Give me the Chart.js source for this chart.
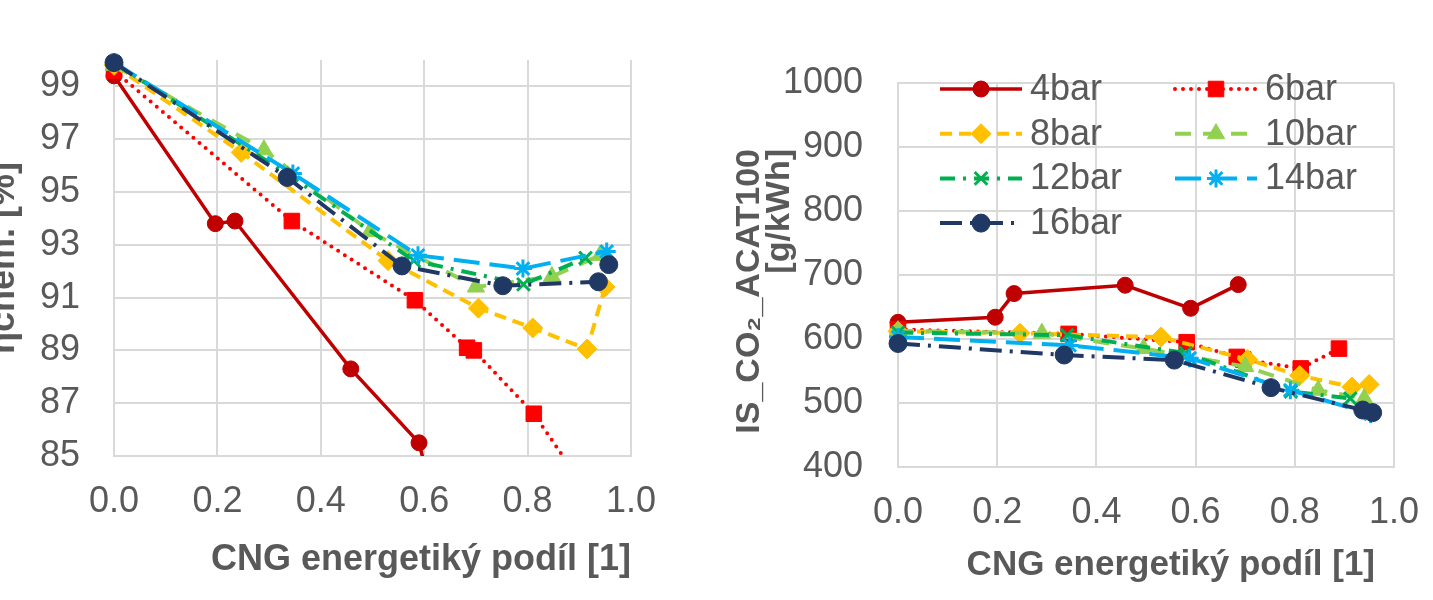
<!DOCTYPE html>
<html>
<head>
<meta charset="utf-8">
<script src="https://cdn.jsdelivr.net/npm/chart.js@4.4.1/dist/chart.umd.min.js"></script>
<style>
  body { margin: 0; background: #fff; overflow: hidden; width: 1433px; height: 600px; position: relative; }
  #effWrap { position: absolute; left: -20px; top: 0; width: 720px; height: 600px; }
  #co2Wrap { position: absolute; left: 700px; top: 0; width: 733px; height: 600px; }
</style>
</head>
<body>
<div id="effWrap"><canvas id="effChart" width="720" height="600"></canvas></div>
<div id="co2Wrap"><canvas id="co2Chart" width="733" height="600"></canvas></div>
<script>
// Series names (boost pressure)
const seriesNames = ["4bar", "6bar", "8bar", "10bar", "12bar", "14bar", "16bar"];

// CNG energy share per series (x values, shared by both charts)
const cng4 = [0, 0.196, 0.234, 0.458, 0.59, 0.686];
const cng6 = [0, 0.344, 0.582, 0.683, 0.696, 0.812, 0.889];
const cng8 = [0, 0.246, 0.53, 0.705, 0.81, 0.915, 0.95];
const cng10 = [0, 0.29, 0.495, 0.7, 0.847, 0.94];
const cng12 = [0, 0.341, 0.58, 0.792, 0.912];
const cng14 = [0, 0.346, 0.588, 0.791, 0.953];
const cng16 = [0, 0.335, 0.557, 0.752, 0.937, 0.957];

// Chemical efficiency [%] (left chart)
const eta4 = [99.4, 93.8, 93.9, 88.3, 85.5, 78];
const eta6 = [99.6, 93.9, 90.9, 89.1, 89.0, 86.6, 84.4];
const eta8 = [99.8, 96.5, 92.4, 90.6, 89.85, 89.05, 91.4];
const eta10 = [99.8, 96.6, 93.5, 91.4, 91.8, 92.6];
const eta12 = [99.9, 95.6, 92.4, 91.5, 92.5];
const eta14 = [99.9, 95.7, 92.6, 92.1, 92.75];
const eta16 = [99.9, 95.55, 92.2, 91.45, 91.6, 92.25];

// IS_CO2_ACAT100 [g/kWh] (right chart)
const co2_4 = [626, 634, 671, 684, 648, 685];
const co2_6 = [615, 608, 595, 572, 568, 554, 585];
const co2_8 = [612, 609, 603, 568, 543, 525, 529];
const co2_10 = [613, 609, 585, 557, 520, 507];
const co2_12 = [610, 606, 578, 518, 507];
const co2_14 = [603, 590, 570, 520, 483];
const co2_16 = [593, 575, 567, 524, 489, 485];

const cngShares = [cng4, cng6, cng8, cng10, cng12, cng14, cng16];
const etaValues = [eta4, eta6, eta8, eta10, eta12, eta14, eta16];
const co2Values = [co2_4, co2_6, co2_8, co2_10, co2_12, co2_14, co2_16];

// Line / marker look of each series
const seriesStyles = [
  { color: "#C00000", dash: [], width: 3.5, cap: "butt", point: "circle", radius: 8, pw: 1 },
  { color: "#FF0000", dash: [0, 8], width: 4, cap: "round", point: "rect", radius: 11, pw: 1 },
  { color: "#FFC000", dash: [12, 7], width: 4, cap: "butt", point: "rectRot", radius: 10, pw: 1 },
  { color: "#92D050", dash: [16, 12], width: 4, cap: "butt", point: "triangle", radius: 10, pw: 1 },
  { color: "#00B050", dash: [15, 8, 3, 8], width: 4, cap: "butt", point: "crossRot", radius: 9, pw: 3 },
  { color: "#00B0F0", dash: [26, 10], width: 4, cap: "butt", point: "star", radius: 9, pw: 3 },
  { color: "#1F3864", dash: [22, 8, 3, 8], width: 4, cap: "butt", point: "circle", radius: 9, pw: 1 },
];

const textColor = "#595959";
const gridColor = "#d9d9d9";
Chart.defaults.font.family = "'Liberation Sans', Arial, sans-serif";
Chart.defaults.color = textColor;

function makeDatasets(yValues, clip) {
  return seriesNames.map((name, i) => {
    const st = seriesStyles[i];
    return {
      label: name,
      data: cngShares[i].map((x, j) => ({ x: x, y: yValues[i][j] })),
      showLine: true,
      clip: clip,
      borderColor: st.color,
      backgroundColor: st.color,
      borderWidth: st.width,
      borderDash: st.dash,
      borderCapStyle: st.cap,
      pointStyle: st.point,
      pointRadius: st.radius,
      pointHoverRadius: st.radius,
      pointBackgroundColor: st.color,
      pointBorderColor: st.color,
      pointBorderWidth: st.pw,
      order: seriesNames.length - i,
    };
  });
}

// Legend in two columns inside the plot (right chart)
const gridLegend = {
  id: "gridLegend",
  afterDraw(chart, args, opts) {
    if (!opts.show) return;
    const { ctx, chartArea } = chart;
    ctx.save();
    chart.data.datasets.forEach((ds, i) => {
      const col = i % 2;
      const row = Math.floor(i / 2);
      const x0 = chartArea.left + opts.left + col * opts.colWidth;
      const y = chartArea.top + opts.top + row * opts.rowHeight;
      ctx.strokeStyle = ds.borderColor;
      ctx.lineWidth = ds.borderWidth;
      ctx.lineCap = ds.borderCapStyle;
      ctx.setLineDash(ds.borderDash);
      ctx.beginPath();
      ctx.moveTo(x0, y);
      ctx.lineTo(x0 + opts.lineLength, y);
      ctx.stroke();
      ctx.setLineDash([]);
      ctx.lineCap = "butt";
      ctx.fillStyle = ds.pointBackgroundColor;
      ctx.strokeStyle = ds.pointBorderColor;
      ctx.lineWidth = ds.pointBorderWidth;
      Chart.helpers.drawPoint(ctx, {
        pointStyle: ds.pointStyle, radius: ds.pointRadius, rotation: 0, borderWidth: ds.pointBorderWidth,
      }, x0 + opts.lineLength / 2, y);
      ctx.fillStyle = textColor;
      ctx.font = "36px 'Liberation Sans', Arial, sans-serif";
      ctx.textBaseline = "middle";
      ctx.textAlign = "left";
      ctx.fillText(ds.label, x0 + opts.lineLength + 8, y + 1);
    });
    ctx.restore();
  },
};

// Axis titles placed freely (right chart)
const freeTitles = {
  id: "freeTitles",
  afterDraw(chart, args, opts) {
    if (!opts.items) return;
    const { ctx, chartArea } = chart;
    ctx.save();
    ctx.fillStyle = textColor;
    opts.items.forEach(it => {
      ctx.save();
      ctx.font = it.font;
      ctx.textAlign = it.align;
      ctx.textBaseline = "middle";
      const ax = it.fromRight ? chartArea.right : chartArea.left;
      const ay = it.fromBottom ? chartArea.bottom : chartArea.top;
      ctx.translate(ax + it.dx, ay + it.dy);
      ctx.rotate(it.rotation || 0);
      ctx.fillText(it.text, 0, 0);
      ctx.restore();
    });
    ctx.restore();
  },
};

const xAxisBase = {
  type: "linear",
  min: 0,
  max: 1,
  ticks: { stepSize: 0.2, padding: 10, font: { size: 36 }, callback: v => v.toFixed(1) },
  grid: { color: gridColor, lineWidth: 2, drawTicks: true, tickLength: 14, tickColor: "rgba(0,0,0,0)" },
  border: { color: gridColor, width: 2 },
  afterFit: s => { s.height = 130; },
};

// Left chart: chemical efficiency
new Chart(document.getElementById("effChart"), {
  type: "scatter",
  data: { datasets: makeDatasets(etaValues, { left: 12, top: 12, right: 12, bottom: 0 }) },
  options: {
    responsive: false,
    animation: false,
    layout: { padding: { left: 0, right: 69, top: 60, bottom: 14 } },
    plugins: { legend: { display: false }, tooltip: { enabled: false } },
    scales: {
      x: Object.assign({}, xAxisBase, {
        title: {
          display: true, text: "CNG energetiký podíl [1]", align: "end",
          font: { size: 36, weight: "bold" }, padding: { top: 0, bottom: 4 },
        },
      }),
      y: {
        min: 85,
        max: 100,
        ticks: { stepSize: 1, padding: 34, font: { size: 36 } },
        afterBuildTicks: s => { s.ticks = s.ticks.filter(t => t.value % 2 === 1); },
        grid: { color: gridColor, lineWidth: 2, drawTicks: false },
        border: { color: gridColor, width: 2 },
        title: {
          display: true, text: "ηchem. [%]",
          font: { size: 36, weight: "bold" }, padding: { top: 2, bottom: 0 },
        },
        afterFit: s => { s.width = 134; },
      },
    },
  },
});

// Right chart: CO2
new Chart(document.getElementById("co2Chart"), {
  type: "scatter",
  data: { datasets: makeDatasets(co2Values, 12) },
  options: {
    responsive: false,
    animation: false,
    layout: { padding: { left: 0, right: 39, top: 83, bottom: 3 } },
    plugins: {
      legend: { display: false },
      tooltip: { enabled: false },
      gridLegend: { show: true, left: 42, top: 6, colWidth: 235, rowHeight: 44.7, lineLength: 82 },
      freeTitles: {
        items: [
          { text: "CNG energetiký podíl [1]", font: "bold 35px 'Liberation Sans', Arial, sans-serif",
            align: "right", fromRight: true, fromBottom: true, dx: -19, dy: 98 },
          { text: "IS_CO₂_ACAT100", font: "bold 34px 'Liberation Sans', Arial, sans-serif",
            align: "right", dx: -148, dy: 66, rotation: -Math.PI / 2 },
          { text: "[g/kWh]", font: "bold 34px 'Liberation Sans', Arial, sans-serif",
            align: "right", dx: -118, dy: 66, rotation: -Math.PI / 2 },
        ],
      },
    },
    scales: {
      x: Object.assign({}, xAxisBase),
      y: {
        min: 400,
        max: 1000,
        ticks: { stepSize: 100, padding: 35, font: { size: 36 }, callback: v => String(v) },
        grid: { color: gridColor, lineWidth: 2, drawTicks: false },
        border: { color: gridColor, width: 2 },
        afterFit: s => { s.width = 198; },
      },
    },
  },
  plugins: [gridLegend, freeTitles],
});
</script>
</body>
</html>
